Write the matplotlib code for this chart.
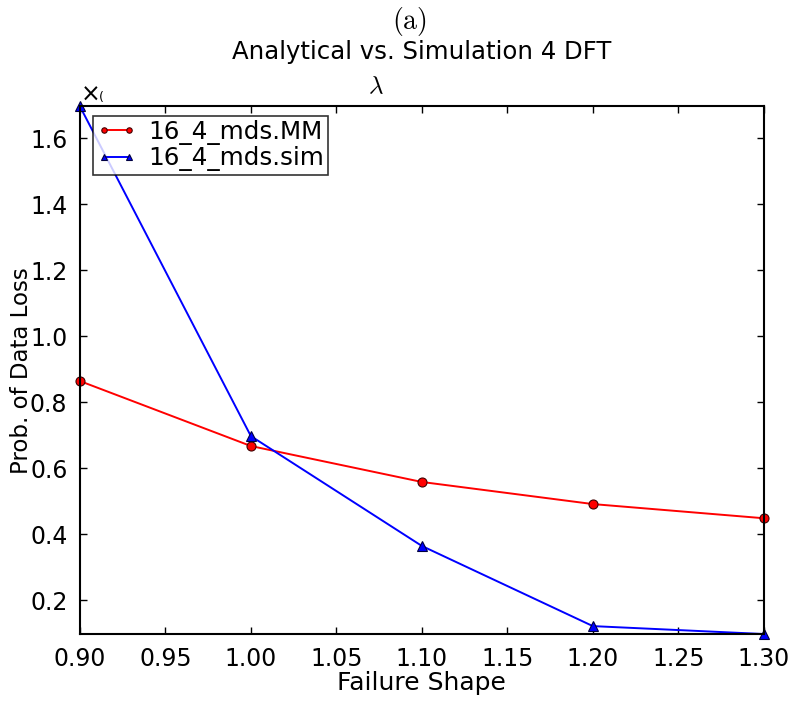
import matplotlib
matplotlib.use("Agg")
import matplotlib.pyplot as plt
from matplotlib.ticker import FormatStrFormatter

plt.rcParams['mathtext.fontset'] = 'cm'
plt.rcParams['font.family'] = 'DejaVu Sans'

shape = [0.9, 1.0, 1.1, 1.2, 1.3]
mm_vals = [0.864, 0.667, 0.558, 0.491, 0.448]
sim_vals = [1.697, 0.697, 0.364, 0.121, 0.097]

fig = plt.figure(figsize=(7.99, 7.04), dpi=100)
ax = fig.add_axes([0.100, 0.0994, 0.856, 0.7496])

ax.plot(shape, mm_vals, color='red', marker='o', markersize=6.5,
        markerfacecolor='red', markeredgecolor='#400000', markeredgewidth=0.8,
        linewidth=1.4, label='16_4_mds.MM', clip_on=False)
ax.plot(shape, sim_vals, color='blue', marker='^', markersize=7,
        markerfacecolor='blue', markeredgecolor='#000040', markeredgewidth=0.8,
        linewidth=1.4, label='16_4_mds.sim', clip_on=False)

ax.set_xlim(0.9, 1.3)
ax.set_ylim(min(sim_vals), max(sim_vals))
ax.set_xticks([0.90, 0.95, 1.00, 1.05, 1.10, 1.15, 1.20, 1.25, 1.30])
ax.xaxis.set_major_formatter(FormatStrFormatter('%.2f'))
ax.set_yticks([0.2, 0.4, 0.6, 0.8, 1.0, 1.2, 1.4, 1.6])
ax.yaxis.set_major_formatter(FormatStrFormatter('%.1f'))

ax.tick_params(direction='in', top=True, right=True, length=5, width=1,
               labelsize=17, pad=9)
for s in ax.spines.values():
    s.set_linewidth(1.5)

ax.set_xlabel('Failure Shape', fontsize=18, labelpad=0)
ax.set_ylabel('Prob. of Data Loss', fontsize=16.5, labelpad=-2.5)

leg = ax.legend(loc='upper left', fontsize=17.7, numpoints=2, markerscale=0.6,
                fancybox=False, borderpad=0.15, labelspacing=0.05,
                handlelength=1.6, handletextpad=0.5, borderaxespad=0.0,
                bbox_to_anchor=(0.019, 0.981))
leg.get_frame().set_edgecolor('black')
leg.get_frame().set_linewidth(1.2)

fig.text(0.513, 0.970, r'$\mathrm{(a)}$', ha='center', va='center', fontsize=20)
fig.text(0.528, 0.926, 'Analytical vs. Simulation 4 DFT', ha='center',
         va='center', fontsize=17.6)
fig.text(0.470, 0.877, r'$\lambda$', ha='center', va='center', fontsize=18)
fig.text(0.101, 0.866, '×', ha='left', va='center', fontsize=17)
fig.text(0.124, 0.862, '(', ha='left', va='center', fontsize=9)

fig.savefig('out.png', dpi=100)
